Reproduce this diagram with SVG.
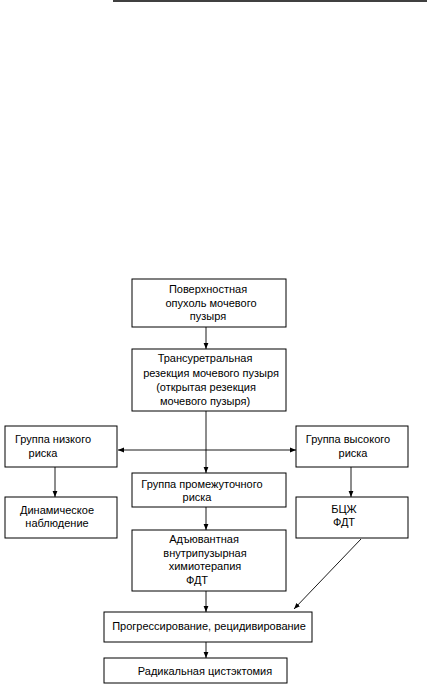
<svg xmlns="http://www.w3.org/2000/svg" width="427" height="685" viewBox="0 0 427 685">
<defs>
<marker id="ah" viewBox="0 0 10 10" refX="10" refY="5" markerWidth="6" markerHeight="6" markerUnits="userSpaceOnUse" orient="auto-start-reverse">
<path d="M0,1 L10,5 L0,9 z" fill="#000"/>
</marker>
<style>
.box{fill:#fff;stroke:#000;stroke-width:1}
.t{font-family:"Liberation Sans",Arial,sans-serif;font-size:11px;fill:#000;text-anchor:middle}
.c{stroke:#000;stroke-width:0.9;fill:none}
</style>
</defs>
<rect width="427" height="685" fill="#fff"/>
<line x1="113" y1="1" x2="427" y2="1" stroke="#000" stroke-width="1.5"/>
<g id="connectors">
<line class="c" x1="206" y1="327" x2="206" y2="349" marker-end="url(#ah)"/>
<line class="c" x1="206" y1="411" x2="206" y2="473" marker-end="url(#ah)"/>
<line class="c" x1="118" y1="450" x2="296" y2="450" marker-start="url(#ah)" marker-end="url(#ah)"/>
<line class="c" x1="55" y1="467" x2="55" y2="497" marker-end="url(#ah)"/>
<line class="c" x1="351" y1="467" x2="351" y2="497" marker-end="url(#ah)"/>
<line class="c" x1="206" y1="507" x2="206" y2="530" marker-end="url(#ah)"/>
<line class="c" x1="206" y1="591" x2="206" y2="612" marker-end="url(#ah)"/>
<line class="c" x1="361" y1="539" x2="294" y2="609" marker-end="url(#ah)"/>
<line class="c" x1="206" y1="642" x2="206" y2="658" marker-end="url(#ah)"/>
</g>
<g id="n1">
<rect class="box" x="132" y="279" width="154" height="48"/>
<text class="t" x="208" y="293">Поверхностная</text>
<text class="t" x="211" y="307">опухоль мочевого</text>
<text class="t" x="208" y="320">пузыря</text>
</g>
<g id="n2">
<rect class="box" x="132" y="349" width="154" height="62"/>
<text class="t" x="205" y="362">Трансуретральная</text>
<text class="t" x="211" y="377">резекция мочевого пузыря</text>
<text class="t" x="206" y="391">(открытая резекция</text>
<text class="t" x="205" y="405">мочевого пузыря)</text>
</g>
<g id="n3">
<rect class="box" x="5" y="426" width="112" height="41"/>
<text class="t" x="53" y="443">Группа низкого</text>
<text class="t" x="43" y="457">риска</text>
</g>
<g id="n4">
<rect class="box" x="296" y="426" width="112" height="41"/>
<text class="t" x="348" y="443">Группа высокого</text>
<text class="t" x="353" y="457">риска</text>
</g>
<g id="n5">
<rect class="box" x="5" y="497" width="112" height="41"/>
<text class="t" x="57" y="514">Динамическое</text>
<text class="t" x="57" y="527">наблюдение</text>
</g>
<g id="n6">
<rect class="box" x="132" y="473" width="154" height="34"/>
<text class="t" x="202" y="488">Группа промежуточного</text>
<text class="t" x="197" y="501">риска</text>
</g>
<g id="n7">
<rect class="box" x="296" y="497" width="112" height="41"/>
<text class="t" x="344" y="513">БЦЖ</text>
<text class="t" x="344" y="526">ФДТ</text>
</g>
<g id="n8">
<rect class="box" x="132" y="530" width="154" height="61"/>
<text class="t" x="204" y="543">Адъювантная</text>
<text class="t" x="205" y="557">внутрипузырная</text>
<text class="t" x="205" y="570">химиотерапия</text>
<text class="t" x="197" y="584">ФДТ</text>
</g>
<g id="n9">
<rect class="box" x="104" y="612" width="208" height="30"/>
<text class="t" x="209" y="630">Прогрессирование, рецидивирование</text>
</g>
<g id="n10">
<rect class="box" x="104" y="658" width="183" height="25"/>
<text class="t" x="205" y="675">Радикальная цистэктомия</text>
</g>
</svg>
